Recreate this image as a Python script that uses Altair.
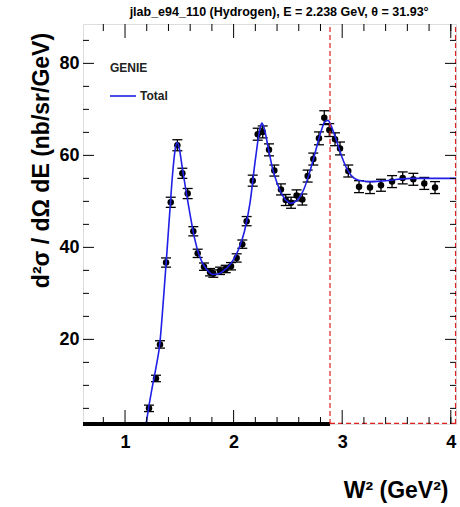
import altair as alt
import pandas as pd

# ---------------- data ----------------
pt_w2 = [1.221, 1.285, 1.322, 1.378, 1.421, 1.482, 1.528, 1.577, 1.629, 1.669,
         1.727, 1.783, 1.813, 1.875, 1.927, 1.976, 2.028, 2.080, 2.120, 2.176,
         2.222, 2.268, 2.326, 2.375, 2.436, 2.480, 2.529, 2.580, 2.633, 2.682,
         2.734, 2.786, 2.835, 2.881, 2.934, 2.980, 3.056, 3.155, 3.256, 3.357,
         3.459, 3.557, 3.655, 3.756, 3.855]
pt_xsec = [5.0, 11.5, 18.9, 36.7, 49.8, 62.2, 56.1, 51.7, 43.5, 38.7,
           35.8, 34.6, 34.3, 34.9, 35.3, 35.9, 37.7, 40.7, 45.7, 54.5,
           64.6, 65.1, 61.2, 56.7, 52.6, 50.3, 49.7, 51.3, 50.4, 55.5,
           59.2, 63.7, 68.2, 65.5, 63.5, 61.5, 56.6, 53.2, 53.0, 53.5,
           54.3, 55.1, 54.8, 53.9, 53.0]
pt_err = [0.7, 0.7, 0.8, 1.0, 1.1, 1.2, 1.1, 1.1, 1.0, 0.9,
          0.8, 0.8, 0.8, 0.8, 0.8, 0.8, 0.9, 0.9, 1.0, 1.2,
          1.3, 1.3, 1.3, 1.2, 1.2, 1.2, 1.2, 1.2, 1.2, 1.3,
          1.3, 1.4, 1.5, 1.4, 1.4, 1.4, 1.3, 1.3, 1.3, 1.3,
          1.3, 1.3, 1.3, 1.3, 1.3]

curve_w2 = [1.19, 1.22, 1.25, 1.29, 1.32, 1.35, 1.38, 1.41, 1.44, 1.46, 1.48,
            1.50, 1.52, 1.56, 1.60, 1.64, 1.68, 1.72, 1.76, 1.81, 1.86,
            1.90, 1.95, 2.00, 2.05, 2.10, 2.15, 2.20, 2.24, 2.26, 2.28,
            2.32, 2.36, 2.40, 2.45, 2.50, 2.53, 2.56, 2.60, 2.65, 2.70,
            2.75, 2.80, 2.84, 2.87, 2.90, 2.95, 3.00, 3.05, 3.10, 3.15,
            3.25, 3.35, 3.45, 3.55, 3.65, 3.80, 4.048]
curve_xsec = [1.0, 5.5, 9.5, 14.5, 19.0, 27.5, 37.0, 47.0, 56.5, 61.0, 62.8,
              61.5, 58.5, 52.5, 47.0, 42.0, 38.5, 36.3, 35.0, 34.1, 34.2,
              34.8, 35.8, 37.4, 39.8, 43.5, 49.5, 59.0, 65.5, 67.0, 66.0,
              61.5, 57.0, 54.0, 51.3, 49.9, 49.6, 49.8, 50.6, 52.8, 56.3,
              60.5, 64.8, 67.3, 67.6, 66.3, 63.0, 59.5, 56.8, 55.2, 54.6,
              54.3, 54.4, 54.6, 54.9, 55.0, 55.0, 55.0]

x_major = [1, 2, 3, 4]
x_minor = [0.8, 1.2, 1.4, 1.6, 1.8, 2.2, 2.4, 2.6, 2.8, 3.2, 3.4, 3.6, 3.8, 4.0]
y_major = [20, 40, 60, 80]
y_minor = [5, 10, 15, 25, 30, 35, 45, 50, 55, 65, 70, 75, 85]

X_MIN, X_MAX = 0.613, 4.048
Y_MIN, Y_MAX = 1.6, 88.56
CUT_W2 = 2.888
CAP_HALF = 0.046

title_text = "jlab_e94_110 (Hydrogen), E = 2.238 GeV, \u03b8 = 31.93\u00b0"
FONT = "Liberation Sans"

# ---------------- tables ----------------
pts = pd.DataFrame({"w2": pt_w2, "v": pt_xsec, "e": pt_err})
pts["lo"] = pts["v"] - pts["e"]
pts["hi"] = pts["v"] + pts["e"]
pts["cl"] = pts["w2"] - CAP_HALF
pts["cr"] = pts["w2"] + CAP_HALF
curve = pd.DataFrame({"w2": curve_w2, "v": curve_xsec})
one = pd.DataFrame({"a": [0]})

W, H = 373, 400
xs = alt.Scale(domain=[X_MIN, X_MAX], nice=False, zero=False)
ys = alt.Scale(domain=[Y_MIN, Y_MAX], nice=False, zero=False)

x_axis = alt.Axis(values=x_major, format="d", ticks=False, domain=False, grid=False,
                  labelFontSize=18, labelFontWeight="bold", labelFont=FONT,
                  labelColor="black", labelPadding=9,
                  title="W\u00b2 (GeV\u00b2)", titleFontSize=23, titleFontWeight="bold",
                  titleFont=FONT, titleColor="black", titleX=365, titleY=66,
                  titleAlign="right", titleBaseline="middle", titleAnchor="end")
y_axis = alt.Axis(values=y_major, format="d", ticks=False, domain=False, grid=False,
                  labelFontSize=18, labelFontWeight="bold", labelFont=FONT,
                  labelColor="black", labelPadding=4,
                  title="d\u00b2\u03c3 / d\u03a9 dE (nb/sr/GeV)", titleFontSize=23,
                  titleFontWeight="bold", titleFont=FONT, titleColor="black",
                  titleX=-42, titleY=136, titleAngle=270, titleAlign="center",
                  titleBaseline="middle")

X = alt.X("w2:Q", scale=xs, axis=x_axis)
Y = alt.Y("v:Q", scale=ys, axis=y_axis)

err = alt.Chart(pts).mark_rule(color="black", strokeWidth=1.3).encode(
    x=X, y=alt.Y("lo:Q", scale=ys), y2="hi:Q")
cap_lo = alt.Chart(pts).mark_rule(color="black", strokeWidth=1.3).encode(
    x=alt.X("cl:Q", scale=xs), x2="cr:Q", y=alt.Y("lo:Q", scale=ys))
cap_hi = alt.Chart(pts).mark_rule(color="black", strokeWidth=1.3).encode(
    x=alt.X("cl:Q", scale=xs), x2="cr:Q", y=alt.Y("hi:Q", scale=ys))
dots = alt.Chart(pts).mark_circle(color="black", size=42, opacity=1).encode(x=X, y=Y)
line = alt.Chart(curve).mark_line(color="#1f1fe6", strokeWidth=1.6,
                                  interpolate="monotone", clip=True).encode(x=X, y=Y)

thick = alt.Chart(one).mark_rule(color="black", strokeWidth=4).encode(
    x=alt.datum(X_MIN, scale=xs), x2=alt.datum(CUT_W2), y=alt.datum(Y_MIN, scale=ys))
red_kw = dict(color="#e02020", strokeWidth=1.2, strokeDash=[5, 3])
red_v = alt.Chart(one).mark_rule(**red_kw).encode(
    x=alt.datum(CUT_W2, scale=xs), y=alt.datum(Y_MIN, scale=ys), y2=alt.datum(Y_MAX))
red_r = alt.Chart(one).mark_rule(**red_kw).encode(
    x=alt.datum(X_MAX - 0.004, scale=xs), y=alt.datum(Y_MIN, scale=ys), y2=alt.datum(Y_MAX))
red_b = alt.Chart(one).mark_rule(**red_kw).encode(
    x=alt.datum(CUT_W2, scale=xs), x2=alt.datum(X_MAX), y=alt.datum(Y_MIN + 0.15, scale=ys))

tick_kw = dict(color="black", strokeWidth=1)
xmaj = pd.DataFrame({"w2": x_major})
xmin_ = pd.DataFrame({"w2": x_minor})
ymaj = pd.DataFrame({"v": y_major})
ymin_ = pd.DataFrame({"v": y_minor})
XT = alt.X("w2:Q", scale=xs)
YT = alt.Y("v:Q", scale=ys)
ticks = [
    alt.Chart(xmaj).mark_rule(**tick_kw).encode(x=XT, y=alt.value(H), y2=alt.value(H - 14)),
    alt.Chart(xmin_).mark_rule(**tick_kw).encode(x=XT, y=alt.value(H), y2=alt.value(H - 7)),
    alt.Chart(xmaj).mark_rule(**tick_kw).encode(x=XT, y=alt.value(0), y2=alt.value(14)),
    alt.Chart(xmin_).mark_rule(**tick_kw).encode(x=XT, y=alt.value(0), y2=alt.value(7)),
    alt.Chart(ymaj).mark_rule(**tick_kw).encode(y=YT, x=alt.value(0), x2=alt.value(11)),
    alt.Chart(ymin_).mark_rule(**tick_kw).encode(y=YT, x=alt.value(0), x2=alt.value(6)),
    alt.Chart(ymaj).mark_rule(**tick_kw).encode(y=YT, x=alt.value(W), x2=alt.value(W - 11)),
    alt.Chart(ymin_).mark_rule(**tick_kw).encode(y=YT, x=alt.value(W), x2=alt.value(W - 6)),
]

leg_title = alt.Chart(one).mark_text(text="GENIE", font=FONT, fontSize=12, fontWeight="bold",
                                     align="left", baseline="middle", color="#222").encode(
    x=alt.value(27), y=alt.value(44))
leg_line = alt.Chart(one).mark_rule(color="#1f1fe6", strokeWidth=1.6).encode(
    x=alt.value(27), x2=alt.value(53), y=alt.value(72))
leg_text = alt.Chart(one).mark_text(text="Total", font=FONT, fontSize=12, fontWeight="bold",
                                    align="left", baseline="middle", color="#222").encode(
    x=alt.value(57), y=alt.value(72))

chart = alt.layer(
    err, cap_lo, cap_hi, dots, line, thick, red_v, red_r, red_b, *ticks,
    leg_title, leg_line, leg_text
).properties(
    width=W, height=H,
    title=alt.TitleParams(title_text, fontSize=12.5, fontWeight="bold", font=FONT,
                          color="black", anchor="end", dx=-28, offset=5),
    autosize=alt.AutoSizeParams(type="none"),
    padding={"left": 83, "top": 24, "right": 4, "bottom": 83},
).configure_view(
    stroke="black", strokeWidth=1.5
).configure_title(
    fontSize=12.5, font=FONT, fontWeight="bold"
).configure(background="white")

chart.save("out.html", embed_options={"renderer": "svg", "actions": False})
